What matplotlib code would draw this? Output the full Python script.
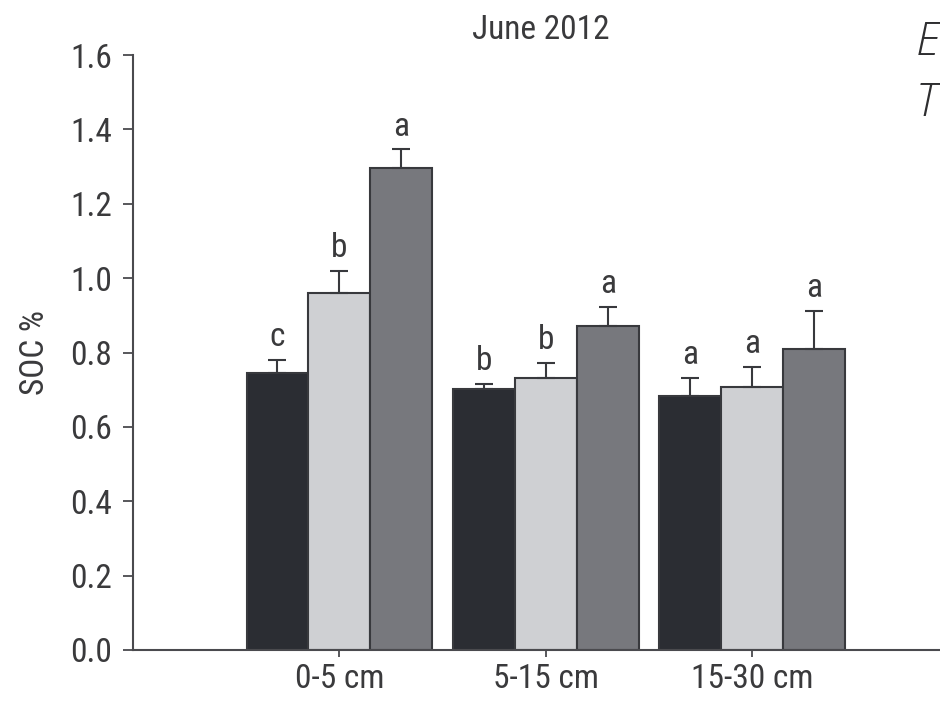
import numpy as np
import matplotlib
matplotlib.use("Agg")
import matplotlib.pyplot as plt
from matplotlib import font_manager

# --- data ---------------------------------------------------------------
depths = ["0-5 cm", "5-15 cm", "15-30 cm"]
soc_t1 = [0.744, 0.701, 0.684]
soc_t2 = [0.959, 0.731, 0.707]
soc_t3 = [1.295, 0.871, 0.810]
err_t1 = [0.036, 0.014, 0.048]
err_t2 = [0.061, 0.042, 0.054]
err_t3 = [0.051, 0.052, 0.102]
sig_t1 = ["c", "b", "a"]
sig_t2 = ["b", "b", "a"]
sig_t3 = ["a", "a", "a"]
yticks = [0.0, 0.2, 0.4, 0.6, 0.8, 1.0, 1.2, 1.4, 1.6]
title = "June 2012"
ylabel = "SOC %"

# --- fonts --------------------------------------------------------------
available = {f.name for f in font_manager.fontManager.ttflist}
narrow = next((f for f in ["Roboto Condensed", "Liberation Sans Narrow",
                           "Liberation Sans"] if f in available), "DejaVu Sans")
plt.rcParams["font.family"] = [narrow, "DejaVu Sans"]

text_c = "#3a3a3c"
edge_c = "#38393d"
colors = ["#2b2d33", "#cfd0d3", "#77787d"]
fs = 24

fig = plt.figure(figsize=(9.40, 7.04), dpi=100)
ax = fig.add_axes([133 / 940, 54 / 704, 1 - 133 / 940, 595 / 704])

x = np.arange(len(depths))
width = 0.30
series = [(soc_t1, err_t1, sig_t1), (soc_t2, err_t2, sig_t2), (soc_t3, err_t3, sig_t3)]
for i, (vals, errs, sigs) in enumerate(series):
    pos = x + (i - 1) * width
    ax.bar(pos, vals, width, color=colors[i], edgecolor=edge_c, linewidth=1.5, zorder=2)
    ax.errorbar(pos, vals, yerr=[np.zeros(len(vals)), errs], fmt="none",
                ecolor=edge_c, elinewidth=1.5, capsize=6.5, capthick=1.5, zorder=3)
    for p, v, e, s in zip(pos, vals, errs, sigs):
        ax.annotate(s, (p, v + e), xytext=(0, 5), textcoords="offset points",
                    ha="center", va="bottom", fontsize=fs, color=text_c)

ax.set_xlim(-1.0, (940 - 339) / 206.5)
ax.set_ylim(0, 1.6)
ax.set_yticks(yticks)
ax.set_yticklabels([f"{t:.1f}" for t in yticks])
ax.set_xticks(x)
ax.set_xticklabels(depths)

for side in ["top", "right"]:
    ax.spines[side].set_visible(False)
for side in ["left", "bottom"]:
    ax.spines[side].set_color("#4a4a4e")
    ax.spines[side].set_linewidth(1.5)

ax.tick_params(axis="y", direction="out", length=7, width=1.3, colors="#4a4a4e",
               labelcolor=text_c, labelsize=fs, pad=8)
ax.tick_params(axis="x", direction="out", length=5, width=1.3, colors="#4a4a4e",
               labelcolor=text_c, labelsize=fs, pad=4)

ax.set_ylabel(ylabel, fontsize=fs, color=text_c, labelpad=14)
fig.text(541 / 940, 1 - 30 / 704, title, ha="center", va="center",
         fontsize=fs, color=text_c)

# heading letters at the right edge
for txt, yy in [("E", 43), ("T", 104)]:
    fig.text(916 / 940, 1 - yy / 704, txt, ha="left", va="center", fontsize=33,
             style="italic", fontweight="light", color="#2e2e30",
             family=["Open Sans", "Lato", "DejaVu Sans"])

fig.savefig("out.png", dpi=100)
